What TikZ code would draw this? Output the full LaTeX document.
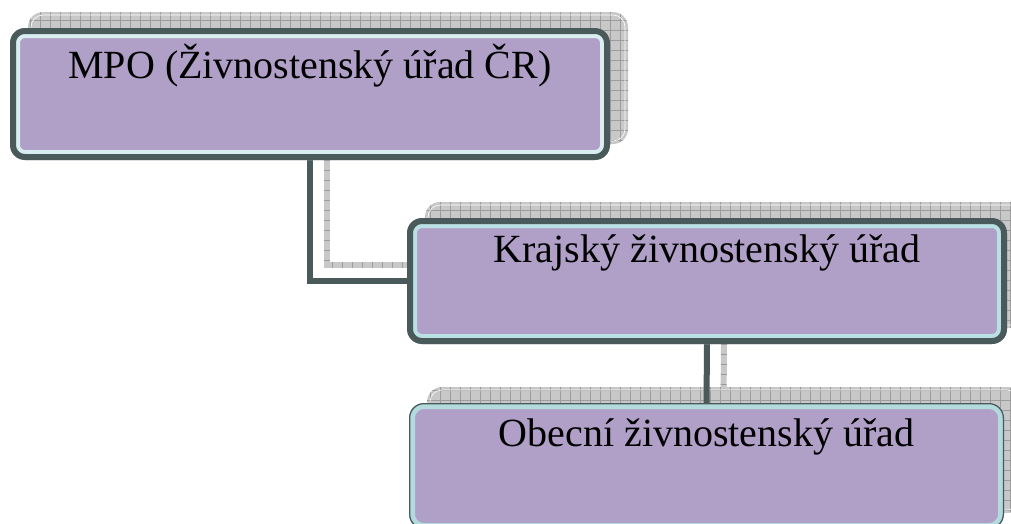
\documentclass[tikz,border=0pt]{standalone}
\usepackage{fontspec}
\setmainfont{Liberation Serif}
\usepackage{tikz}
\usetikzlibrary{
    calc,
    backgrounds
}

\definecolor{tierfill}{HTML}{B0A0C8}
\definecolor{tierline}{HTML}{4A5959}
\definecolor{bandpale}{HTML}{DAEEF1}
\definecolor{bandmid}{HTML}{B9E1E3}
\definecolor{banddeep}{HTML}{B3DADC}
\definecolor{shadefill}{HTML}{C8C8C8}
\definecolor{shadegrid}{HTML}{9C9C9C}

\pgfdeclarelayer{shade}
\pgfdeclarelayer{wire}
\pgfsetlayers{shade,wire,main}

\tikzset{
    tier/.style n args={3}{rectangle, rounded corners=15pt, fill=tierfill,
        minimum width=600pt, inner sep=0pt, outer sep=0pt, anchor=north west,
        font=\fontsize{40pt}{48pt}\selectfont, text height=28pt,
        path picture={
            \draw[#1, line width=#2, rounded corners=15pt] (path picture bounding box.south west) rectangle (path picture bounding box.north east);
            \draw[tierline, line width=#3, rounded corners=15pt] (path picture bounding box.south west) rectangle (path picture bounding box.north east);
        }},
    tierlink/.style={draw=tierline, line width=6pt},
    linkshade/.style={draw=shadefill, line width=6pt,
        postaction={draw=shadegrid, line width=6pt, dash pattern=on 0.8pt off 9.2pt}}
}

% grid shadow behind a box, moved up and to the right
\newcommand{\tiershade}[1]{%
    \fill[shadefill, rounded corners=15pt] ($(#1.south west)+(18,-16)$) rectangle ($(#1.north east)+(18,-16)$);
    \begin{scope}
        \clip[rounded corners=15pt] ($(#1.south west)+(18,-16)$) rectangle ($(#1.north east)+(18,-16)$);
        \draw[shadegrid, line width=0.8pt, step=10pt] ($(#1.south west)+(8,-6)$) grid ($(#1.north east)+(28,-26)$);
    \end{scope}
    \draw[white, line width=0.6pt, rounded corners=12pt] ($(#1.south west)+(21,-19)$) rectangle ($(#1.north east)+(15,-13)$);
}

\begin{document}
\begin{tikzpicture}[x=1pt, y=-1pt]
    \useasboundingbox (0,0) rectangle (1011,523);

    \node[tier={bandpale}{20pt}{12pt}, minimum height=132pt, text depth=60pt] (mpo) at (10,28) {MPO (Živnostenský úřad ČR)};
    \node[tier={bandmid}{20pt}{12pt}, minimum height=126pt, text depth=66pt] (kraj) at (407,218) {Krajský živnostenský úřad};
    \node[tier={banddeep}{12pt}{2.5pt}, minimum width=595pt, minimum height=126pt, text depth=68pt] (obec) at (409,403) {Obecní živnostenský úřad};

    \begin{pgfonlayer}{shade}
        \draw[linkshade] ($(mpo.south)+(17,0)$) |- ($(kraj.west)+(0,-16)$);
        \draw[linkshade] ($(kraj.south)+(17,0)$) -- ($(obec.north)+(17,0)$);
        \tiershade{mpo}
        \tiershade{kraj}
        \tiershade{obec}
    \end{pgfonlayer}

    \begin{pgfonlayer}{wire}
        \draw[tierlink] (mpo.south) |- (kraj.west);
        \draw[tierlink] (kraj.south) -- (obec.north);
    \end{pgfonlayer}
\end{tikzpicture}
\end{document}
